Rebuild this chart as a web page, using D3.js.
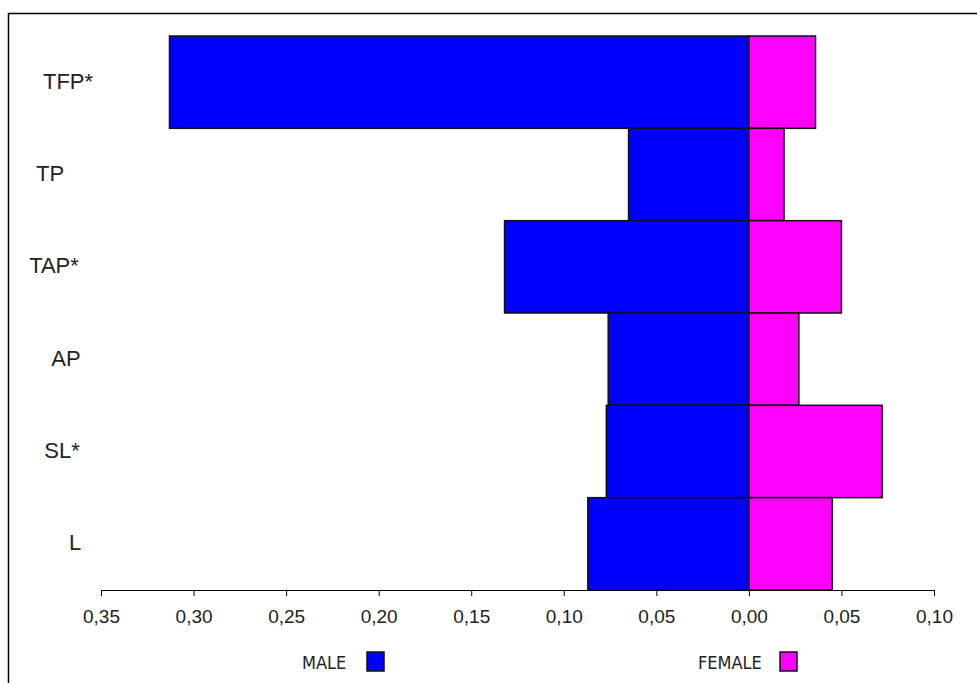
<!DOCTYPE html>
<html>
<head>
<meta charset="utf-8">
<script src="https://cdn.jsdelivr.net/npm/d3@7"></script>
<style>
  body { margin: 0; background: #fff; }
  text { font-family: "Liberation Sans", Arial, sans-serif; fill: #222; }
</style>
</head>
<body>
<div id="my_dataviz"></div>
<script>
// data
var categories = ["TFP*", "TP", "TAP*", "AP", "SL*", "L"];
var maleValues = [0.313, 0.065, 0.132, 0.076, 0.077, 0.087];
var femaleValues = [0.036, 0.019, 0.050, 0.027, 0.072, 0.045];
var tickValues = [-0.35, -0.30, -0.25, -0.20, -0.15, -0.10, -0.05, 0, 0.05, 0.10];
// hand-placed horizontal shifts of the category labels
var labelShift = [0, -18, -14, -2, -6, 7];

var width = 977, height = 683;

var svg = d3.select("#my_dataviz")
    .append("svg")
    .attr("width", width)
    .attr("height", height);

// frame (only left and top edges show)
svg.append("path")
    .attr("d", "M8.5," + height + "V13.5H" + width)
    .attr("fill", "none")
    .attr("stroke", "#000")
    .attr("stroke-width", 1.5);

var x = d3.scaleLinear()
    .domain([-0.35, 0.10])
    .range([101, 934]);

var y = d3.scaleBand()
    .domain(categories)
    .range([36, 590])
    .padding(0);

var rows = categories.map(function(c, i) {
    return { cat: c, male: maleValues[i], female: femaleValues[i], shift: labelShift[i] };
});

// male bars (left of zero)
svg.selectAll("rect.male")
    .data(rows)
    .enter()
    .append("rect")
    .attr("class", "male")
    .attr("x", function(d) { return x(-d.male); })
    .attr("y", function(d) { return y(d.cat); })
    .attr("width", function(d) { return x(0) - x(-d.male); })
    .attr("height", y.bandwidth())
    .attr("fill", "#0000ff")
    .attr("stroke", "#111")
    .attr("stroke-width", 1.5);

// female bars (right of zero)
svg.selectAll("rect.female")
    .data(rows)
    .enter()
    .append("rect")
    .attr("class", "female")
    .attr("x", x(0))
    .attr("y", function(d) { return y(d.cat); })
    .attr("width", function(d) { return x(d.female) - x(0); })
    .attr("height", y.bandwidth())
    .attr("fill", "#ff00ff")
    .attr("stroke", "#111")
    .attr("stroke-width", 1.5);

// X axis, labels with comma decimals and absolute values
var xAxis = svg.append("g")
    .attr("transform", "translate(0,590)")
    .call(d3.axisBottom(x)
        .tickValues(tickValues)
        .tickSize(6)
        .tickSizeOuter(0)
        .tickFormat(function(d) { return d3.format(".2f")(Math.abs(d)).replace(".", ","); }));
xAxis.attr("font-size", 19).attr("font-family", "'Liberation Sans', Arial, sans-serif");
xAxis.select(".domain").attr("stroke", "#000").attr("stroke-width", 1.2);
xAxis.selectAll(".tick line").attr("stroke", "#000");
xAxis.selectAll(".tick text")
    .attr("y", 20)
    .attr("font-size", 19)
    .style("font-size", "19px")
    .attr("fill", "#222");

// category labels
svg.selectAll("text.cat")
    .data(rows)
    .enter()
    .append("text")
    .attr("class", "cat")
    .attr("x", function(d) { return 68 + d.shift; })
    .attr("y", function(d) { return y(d.cat) + y.bandwidth() / 2 - 1; })
    .attr("text-anchor", "middle")
    .attr("dominant-baseline", "central")
    .style("font-size", "22px")
    .text(function(d) { return d.cat; });

// legend
var legend = [
    { name: "MALE", color: "#0000ff", tx: 302, bx: 367 },
    { name: "FEMALE", color: "#ff00ff", tx: 698, bx: 780 }
];
var lg = svg.selectAll("g.legend")
    .data(legend)
    .enter()
    .append("g")
    .attr("class", "legend");
lg.append("text")
    .attr("x", function(d) { return d.tx; })
    .attr("y", 662)
    .attr("dominant-baseline", "central")
    .style("font-family", "'DejaVu Sans Condensed', 'DejaVu Sans', sans-serif")
    .style("font-size", "18px")
    .text(function(d) { return d.name; });
lg.append("rect")
    .attr("x", function(d) { return d.bx; })
    .attr("y", 652)
    .attr("width", 17)
    .attr("height", 19)
    .attr("fill", function(d) { return d.color; })
    .attr("stroke", "#111")
    .attr("stroke-width", 1.5);
</script>
</body>
</html>
